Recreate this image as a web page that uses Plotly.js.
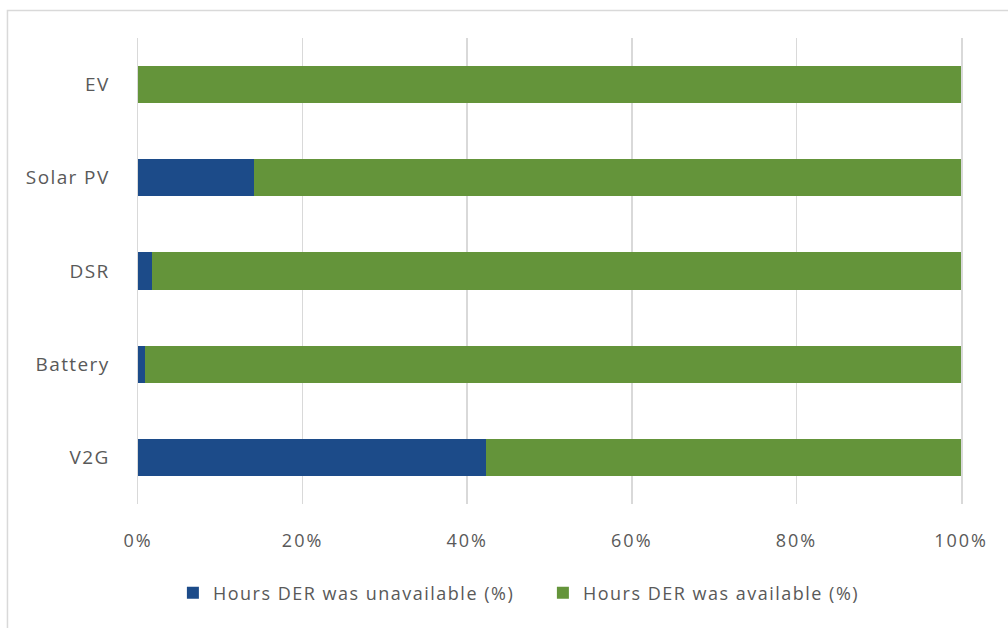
<!DOCTYPE html>
<html>
<head>
<meta charset="utf-8">
<script src="https://cdn.plot.ly/plotly-3.0.1.min.js"></script>
<style>
  html, body { margin: 0; padding: 0; background: #fff; }
  #chart { width: 1008px; height: 628px; }
  /* slightly airy lettering for axis and legend labels */
  .legendtext { letter-spacing: 1.5px; }
  g.xtick text { letter-spacing: 2px; }
  g.ytick text { letter-spacing: 1.4px; }
</style>
</head>
<body>
<div id="chart"></div>
<script>
// DER types, listed top to bottom
const categories = ['EV', 'Solar PV', 'DSR', 'Battery', 'V2G'];
// Share of hours each DER was unavailable / available (%)
const unavailable = [0, 14.1, 1.7, 0.8, 42.3];
const available = [100, 85.9, 98.3, 99.2, 57.7];
const xTickVals = [0, 20, 40, 60, 80, 100];
const xTickText = ['0%', '20%', '40%', '60%', '80%', '100%'];

const textColor = '#595959';
const gridColor = '#d9d9d9';
const fontFamily = '"Open Sans", "Noto Sans", sans-serif';

const traces = [
  {
    type: 'bar', orientation: 'h',
    name: 'Hours DER was unavailable (%)',
    y: categories, x: unavailable,
    marker: { color: '#1c4b89' },
    hoverinfo: 'x+y'
  },
  {
    type: 'bar', orientation: 'h',
    name: 'Hours DER was available (%)',
    y: categories, x: available,
    marker: { color: '#64943a' },
    hoverinfo: 'x+y'
  }
];

const layout = {
  width: 1008, height: 628,
  margin: { l: 138, r: 47, t: 38, b: 124 },
  paper_bgcolor: '#ffffff',
  plot_bgcolor: '#ffffff',
  barmode: 'stack',
  bargap: 0.6,
  font: { family: fontFamily, color: textColor, size: 18 },
  xaxis: {
    range: [0, 100],
    tickvals: xTickVals,
    ticktext: xTickText,
    showgrid: true, gridcolor: gridColor, gridwidth: 1.5,
    zeroline: false, showline: false,
    ticks: '', ticklabelstandoff: 24,
    tickfont: { size: 18, color: textColor },
    fixedrange: true
  },
  yaxis: {
    type: 'category',
    autorange: 'reversed',
    showgrid: false, zeroline: false,
    // the 0% and 100% edges carry the same light rule as the grid
    showline: true, mirror: true, linecolor: gridColor, linewidth: 1.5,
    layer: 'below traces',
    ticks: '', ticklabelstandoff: 23,
    tickfont: { size: 19, color: textColor },
    fixedrange: true
  },
  legend: {
    orientation: 'h',
    x: 0.0424, xanchor: 'left',
    y: -0.191, yanchor: 'middle',
    font: { size: 18, color: textColor },
    itemwidth: 30,
    entrywidthmode: 'pixels',
    entrywidth: 325,
    traceorder: 'normal'
  },
  shapes: [
    {
      // light frame around the chart area
      type: 'rect', xref: 'paper', yref: 'paper',
      x0: -0.1586, x1: 1.07, y0: -0.30, y1: 1.059,
      line: { color: gridColor, width: 1.5 },
      layer: 'below'
    }
  ]
};

Plotly.newPlot('chart', traces, layout, { displayModeBar: false, staticPlot: true });
</script>
</body>
</html>
